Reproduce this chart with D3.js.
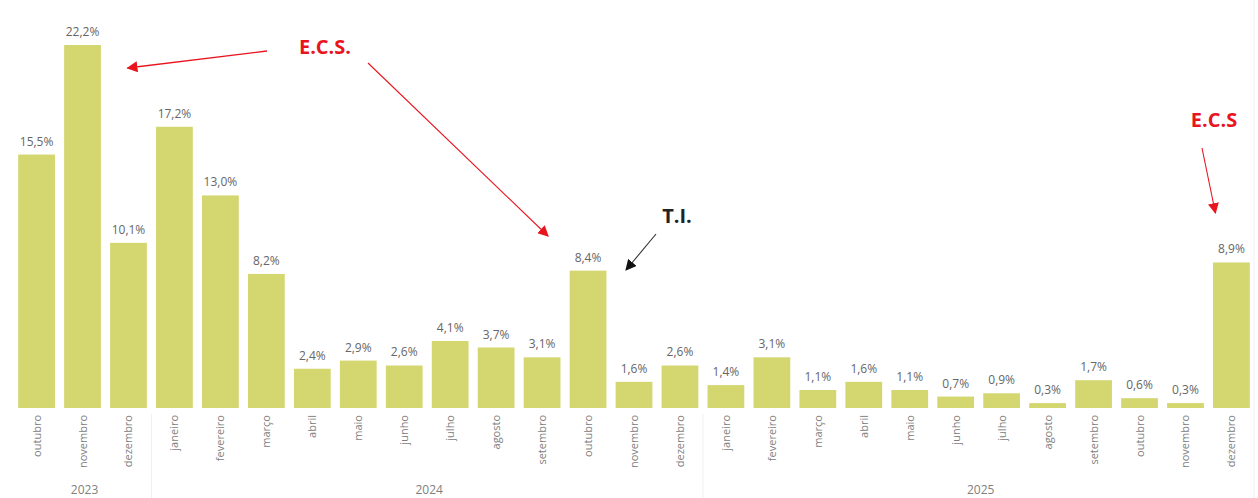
<!DOCTYPE html>
<html>
<head>
<meta charset="utf-8">
<script src="https://cdn.jsdelivr.net/npm/d3@7"></script>
<style>
  body { margin: 0; background: #fff; }
  svg { display: block; font-family: "Open Sans", "Noto Sans", sans-serif; }
</style>
</head>
<body>
<script>
// data
const months = [
  "outubro", "novembro", "dezembro",
  "janeiro", "fevereiro", "março", "abril", "maio", "junho",
  "julho", "agosto", "setembro", "outubro", "novembro", "dezembro",
  "janeiro", "fevereiro", "março", "abril", "maio", "junho",
  "julho", "agosto", "setembro", "outubro", "novembro", "dezembro"
];
const years = ["2023", "2024", "2025"];
const yearOf = [0,0,0, 1,1,1,1,1,1,1,1,1,1,1,1, 2,2,2,2,2,2,2,2,2,2,2,2];
const values = [
  15.5, 22.2, 10.1,
  17.2, 13.0, 8.2, 2.4, 2.9, 2.6, 4.1, 3.7, 3.1, 8.4, 1.6, 2.6,
  1.4, 3.1, 1.1, 1.6, 1.1, 0.7, 0.9, 0.3, 1.7, 0.6, 0.3, 8.9
];

const W = 1258, H = 498;
const baseY = 408;

const svg = d3.select("body").append("svg")
  .attr("width", W)
  .attr("height", H);

const x = d3.scaleBand()
  .domain(d3.range(values.length))
  .range([9, 1259])
  .padding(0.2);

const y = d3.scaleLinear()
  .domain([0, d3.max(values)])
  .range([baseY, 45]);

const fmt = v => d3.format(".1f")(v).replace(".", ",") + "%";

// bars
svg.selectAll("rect.bar")
  .data(values)
  .enter().append("rect")
  .attr("class", "bar")
  .attr("x", (d, i) => x(i))
  .attr("y", d => y(d))
  .attr("width", x.bandwidth())
  .attr("height", d => baseY - y(d))
  .attr("fill", "#d4d670");

// value labels
svg.selectAll("text.val")
  .data(values)
  .enter().append("text")
  .attr("class", "val")
  .attr("x", (d, i) => x(i) + x.bandwidth() / 2)
  .attr("y", d => y(d) - 9)
  .attr("text-anchor", "middle")
  .attr("font-size", 12)
  .attr("fill", "#666")
  .text(fmt);

// month labels (rotated)
const xAxis = svg.append("g").attr("class", "x-axis");
xAxis.selectAll("text")
  .data(months)
  .enter().append("text")
  .attr("transform", (d, i) => `translate(${x(i) + x.bandwidth() / 2 + 4},415) rotate(-90)`)
  .attr("text-anchor", "end")
  .attr("font-size", 11)
  .attr("fill", "#808080")
  .text(d => d);

// year groups
const groups = years.map((yr, k) => {
  const idx = d3.range(values.length).filter(i => yearOf[i] === k);
  return { yr, first: idx[0], last: idx[idx.length - 1] };
});

svg.selectAll("text.year")
  .data(groups)
  .enter().append("text")
  .attr("class", "year")
  .attr("x", g => (x(g.first) + x(g.last) + x.bandwidth()) / 2 + 2)
  .attr("y", 494)
  .attr("text-anchor", "middle")
  .attr("font-size", 12)
  .attr("fill", "#808080")
  .text(g => g.yr);

// faint separators between years
svg.selectAll("line.sep")
  .data(groups.slice(1))
  .enter().append("line")
  .attr("x1", g => x(g.first) - (x.step() - x.bandwidth()) / 2)
  .attr("x2", g => x(g.first) - (x.step() - x.bandwidth()) / 2)
  .attr("y1", 414)
  .attr("y2", H)
  .attr("stroke", "#f0f0f0");

// right frame edge
svg.append("line")
  .attr("x1", W - 4).attr("x2", W - 4)
  .attr("y1", 0).attr("y2", H)
  .attr("stroke", "#f0f0f0");

// annotations
const defs = svg.append("defs");
function marker(id, color) {
  defs.append("marker")
    .attr("id", id)
    .attr("viewBox", "0 0 10 10")
    .attr("refX", 9).attr("refY", 5)
    .attr("markerWidth", 11).attr("markerHeight", 11)
    .attr("markerUnits", "userSpaceOnUse")
    .attr("orient", "auto")
    .append("path")
    .attr("d", "M0,0L10,5L0,10Z")
    .attr("fill", color);
}
marker("ar-red", "#e8151f");
marker("ar-black", "#111");

const red = "#e8151f";
const cx = i => x(i) + x.bandwidth() / 2;

svg.append("text")
  .attr("x", 325).attr("y", 54)
  .attr("text-anchor", "middle")
  .attr("font-size", 20).attr("font-weight", "bold")
  .attr("fill", red)
  .text("E.C.S.");

svg.append("line")
  .attr("x1", 267).attr("y1", 51)
  .attr("x2", cx(1) + 45).attr("y2", 68)
  .attr("stroke", red).attr("stroke-width", 1.3)
  .attr("marker-end", "url(#ar-red)");

svg.append("line")
  .attr("x1", 368).attr("y1", 63)
  .attr("x2", cx(12) - 40).attr("y2", 236)
  .attr("stroke", red).attr("stroke-width", 1.1)
  .attr("marker-end", "url(#ar-red)");

svg.append("text")
  .attr("x", 1214).attr("y", 127)
  .attr("text-anchor", "middle")
  .attr("font-size", 20).attr("font-weight", "bold")
  .attr("fill", red)
  .text("E.C.S");

svg.append("line")
  .attr("x1", 1202).attr("y1", 148)
  .attr("x2", cx(26) - 16).attr("y2", 213)
  .attr("stroke", red).attr("stroke-width", 1.1)
  .attr("marker-end", "url(#ar-red)");

svg.append("text")
  .attr("x", 677).attr("y", 223)
  .attr("text-anchor", "middle")
  .attr("font-size", 20).attr("font-weight", "bold")
  .attr("fill", "#222")
  .text("T.I.");

svg.append("line")
  .attr("x1", 656).attr("y1", 234)
  .attr("x2", cx(12) + 38).attr("y2", 270)
  .attr("stroke", "#333").attr("stroke-width", 1.1)
  .attr("marker-end", "url(#ar-black)");
</script>
</body>
</html>
